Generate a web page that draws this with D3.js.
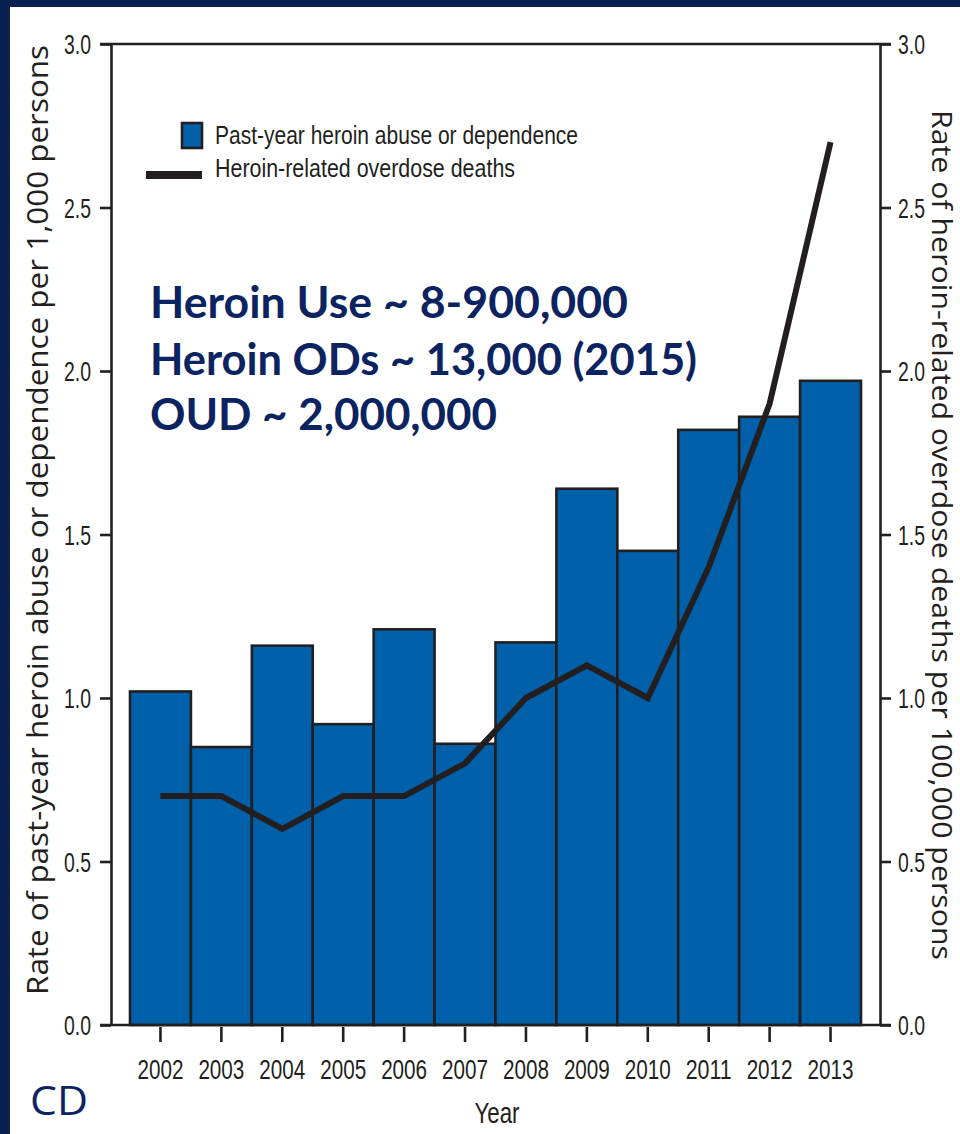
<!DOCTYPE html>
<html><head><meta charset="utf-8">
<script src="https://cdn.jsdelivr.net/npm/d3@7"></script>
<style>
html,body{margin:0;padding:0;background:#fff;}
svg{display:block;}
</style></head>
<body>
<svg id="chart" width="960" height="1134"></svg>
<script>
const years = [2002,2003,2004,2005,2006,2007,2008,2009,2010,2011,2012,2013];
const abuseRate = [1.02,0.85,1.16,0.92,1.21,0.86,1.17,1.64,1.45,1.82,1.86,1.97];
const deathRate = [0.7,0.7,0.6,0.7,0.7,0.8,1.0,1.1,1.0,1.4,1.9,2.7];
const yTicks = [0,0.5,1.0,1.5,2.0,2.5,3.0];
const legendLabels = ["Past-year heroin abuse or dependence","Heroin-related overdose deaths"];
const notes = ["Heroin Use ~ 8-900,000","Heroin ODs ~ 13,000 (2015)","OUD ~ 2,000,000"];
const leftTitle = "Rate of past-year heroin abuse or dependence per 1,000 persons";
const rightTitle = "Rate of heroin-related overdose deaths per 100,000 persons";

const svg = d3.select("#chart");
const navy = "#08204f";
const ink = "#231f20";
const blue = "#0060a9";
const narrow = "'Liberation Sans Narrow','Arial Narrow','Liberation Sans',sans-serif";

// frame
svg.append("rect").attr("x",0).attr("y",0).attr("width",960).attr("height",1134).attr("fill",navy);
svg.append("rect").attr("x",10).attr("y",7).attr("width",950).attr("height",1127).attr("fill","#fff");

const x = d3.scaleBand().domain(years).range([130,861]).padding(0);
const y = d3.scaleLinear().domain([0,3]).range([1025,44]);
const y2 = d3.scaleLinear().domain([0,3]).range([1025,44]);
const xL = 111, xR = 880;

// bars
svg.append("g").selectAll("rect").data(years).join("rect")
  .attr("x",d=>x(d)).attr("y",(d,i)=>y(abuseRate[i]))
  .attr("width",x.bandwidth()).attr("height",(d,i)=>y(0)-y(abuseRate[i]))
  .attr("fill",blue).attr("stroke",ink).attr("stroke-width",2.6);

// line
const line = d3.line().x((d,i)=>x(years[i])+x.bandwidth()/2).y(d=>y2(d));
svg.append("path").datum(deathRate).attr("d",line)
  .attr("fill","none").attr("stroke",ink).attr("stroke-width",6).attr("stroke-linejoin","miter");

// axes
const fmt = d3.format(".1f");
const gL = svg.append("g").attr("transform",`translate(${xL},0)`)
  .call(d3.axisLeft(y).tickValues(yTicks).tickFormat(fmt).tickSize(11).tickSizeOuter(0).tickPadding(9));
const gR = svg.append("g").attr("transform",`translate(${xR},0)`)
  .call(d3.axisRight(y2).tickValues(yTicks).tickFormat(fmt).tickSize(11).tickSizeOuter(0).tickPadding(7));
const gX = svg.append("g").attr("transform",`translate(0,1027)`)
  .call(d3.axisBottom(x).tickSize(15).tickSizeOuter(0).tickPadding(17));
gX.select(".domain").remove();
[gL,gR,gX].forEach(g=>{
  g.selectAll("path,line").attr("stroke",ink).attr("stroke-width",2.6);
  g.selectAll("text").attr("fill",ink).style("font-family",narrow).style("font-size","28px")
    .attr("lengthAdjust","spacingAndGlyphs");
});
gL.selectAll("text").attr("dy","0.35em").attr("textLength",27);
gR.selectAll("text").attr("dy","0.35em").attr("textLength",27);
gX.selectAll("text").attr("textLength",46);

// top & bottom frame lines
[0,3].forEach(v=>{
  svg.append("line").attr("x1",100).attr("x2",891).attr("y1",y(v)).attr("y2",y(v))
    .attr("stroke",ink).attr("stroke-width",2.6);
});

// axis titles
svg.append("text").attr("transform","translate(48,520) rotate(-90)")
  .attr("text-anchor","middle").attr("fill",ink)
  .style("font-family","'Open Sans',sans-serif").style("font-size","29px")
  .attr("textLength",950).attr("lengthAdjust","spacingAndGlyphs").text(leftTitle);
svg.append("text").attr("transform","translate(932,535) rotate(90)")
  .attr("text-anchor","middle").attr("fill",ink)
  .style("font-family","'Open Sans',sans-serif").style("font-size","27px")
  .attr("textLength",850).attr("lengthAdjust","spacingAndGlyphs").text(rightTitle);
svg.append("text").attr("x",497).attr("y",1123).attr("text-anchor","middle").attr("fill",ink)
  .style("font-family",narrow).style("font-size","30px")
  .attr("textLength",45).attr("lengthAdjust","spacingAndGlyphs").text("Year");

// legend
svg.append("rect").attr("x",182).attr("y",123).attr("width",20).attr("height",25)
  .attr("fill",blue).attr("stroke",ink).attr("stroke-width",2.6);
svg.append("rect").attr("x",146).attr("y",171).attr("width",56).attr("height",8).attr("fill",ink);
svg.append("text").attr("x",215).attr("y",144).attr("fill",ink)
  .style("font-family",narrow).style("font-size","26px")
  .attr("textLength",363).attr("lengthAdjust","spacingAndGlyphs").text(legendLabels[0]);
svg.append("text").attr("x",215).attr("y",177).attr("fill",ink)
  .style("font-family",narrow).style("font-size","26px")
  .attr("textLength",300).attr("lengthAdjust","spacingAndGlyphs").text(legendLabels[1]);

// annotation
const noteW = [478,547,347];
const noteY = [318,375,430];
notes.forEach((t,i)=>{
  svg.append("text").attr("x",150).attr("y",noteY[i]).attr("fill","#0b2461")
    .style("font-family","Lato,'Open Sans',sans-serif").style("font-weight","bold").style("font-size","44px")
    .attr("textLength",noteW[i]).attr("lengthAdjust","spacingAndGlyphs").text(t);
});

// corner text
svg.append("text").attr("x",30).attr("y",1115).attr("fill","#0b2461")
  .style("font-family","'Open Sans',sans-serif").style("font-size","41px")
  .attr("textLength",58).attr("lengthAdjust","spacingAndGlyphs").text("CD");
</script>
</body></html>
